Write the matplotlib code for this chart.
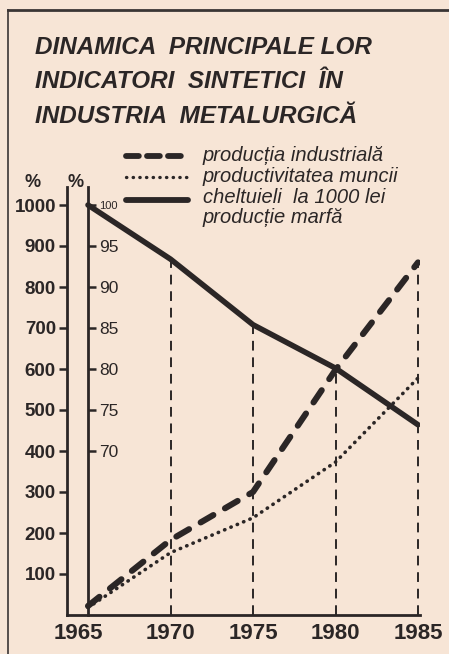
import matplotlib
matplotlib.use("Agg")
import matplotlib.pyplot as plt
from matplotlib.lines import Line2D
import matplotlib.transforms as mtransforms

# ---- data ----
years = [1965, 1970, 1975, 1980, 1985]
productia_industriala = [22, 183, 300, 598, 860]          # % (left scale)
productivitatea_muncii = [18, 152, 237, 373, 578]         # % (left scale)
cheltuieli_1000_lei = [100, 93.4, 85.4, 80.1, 73.2]       # % (inner scale)

left_ticks = [100, 200, 300, 400, 500, 600, 700, 800, 900, 1000]
inner_ticks = [70, 75, 80, 85, 90, 95, 100]
year_labels = ["1965", "1970", "1975", "1980", "1985"]

title_lines = ["DINAMICA  PRINCIPALE LOR",
               "INDICATORI  SINTETICI  ÎN",
               "INDUSTRIA  METALURGICĂ"]
legend_labels = ["producția industrială",
                 "productivitatea muncii",
                 "cheltuieli  la 1000 lei",
                 "producție marfă"]

# ---- style ----
BG = "#f7e5d6"
INK = "#2b2626"
FAM = ["Liberation Sans", "DejaVu Sans"]

W, H = 449, 654
fig = plt.figure(figsize=(W / 100, H / 100), dpi=100, facecolor=BG)

def px(x, y):
    return x / W, 1 - y / H

# axes geometry (pixels)
ax_l, ax_r, ax_t, ax_b = 67, 420, 187, 615
x0_px, x1_px = 88, 418  # 1965 and 1985
ppy = (x1_px - x0_px) / 20.0
ax = fig.add_axes([ax_l / W, 1 - ax_b / H, (ax_r - ax_l) / W, (ax_b - ax_t) / H])
ax.set_facecolor("none")
ax.set_xlim(1965 - (x0_px - ax_l) / ppy, 1985 + (ax_r - x1_px) / ppy)
ppv = (615 - 205) / 1000.0
ytop = (ax_b - ax_t) / ppv
ax.set_ylim(0, ytop)

for s in ["top", "right"]:
    ax.spines[s].set_visible(False)
for s in ["left", "bottom"]:
    ax.spines[s].set_color(INK)
    ax.spines[s].set_linewidth(2.0)

ax.set_yticks(left_ticks)
ax.set_yticklabels([str(t) for t in left_ticks])
ax.tick_params(axis="y", direction="out", length=6, width=1.8, color=INK,
               pad=2, labelcolor=INK)
for lab in ax.get_yticklabels():
    lab.set_fontfamily(FAM)
    lab.set_fontweight("bold")
    lab.set_fontsize(13.5)

ax.set_xticks(years)
ax.set_xticklabels(year_labels)
ax.tick_params(axis="x", length=0, pad=6, labelcolor=INK)
for lab in ax.get_xticklabels():
    lab.set_fontfamily(FAM)
    lab.set_fontweight("bold")
    lab.set_fontsize(16)
first = ax.get_xticklabels()[0]
first.set_transform(first.get_transform() +
                    mtransforms.ScaledTranslation(-10 / 100, 0, fig.dpi_scale_trans))

# inner axis
ax2 = ax.twinx()
ax2.set_facecolor("none")
ax2.set_ylim(50, 50 + ytop / 20.0)
for s in ["top", "left", "bottom"]:
    ax2.spines[s].set_visible(False)
ax2.spines["right"].set_position(("data", 1965))
ax2.spines["right"].set_color(INK)
ax2.spines["right"].set_linewidth(2.0)
ax2.set_yticks(inner_ticks)
ax2.set_yticklabels([str(t) for t in inner_ticks])
ax2.tick_params(axis="y", direction="out", length=6, width=1.8, color=INK,
                pad=2, labelcolor=INK)
for lab in ax2.get_yticklabels():
    lab.set_fontfamily(FAM)
    lab.set_fontsize(12.5 if lab.get_text() != "100" else 8)

# vertical dashed guide lines
conv = [(c - 50) * 20 for c in cheltuieli_1000_lei]
for i, yr in enumerate(years[1:], start=1):
    top = max(productia_industriala[i], productivitatea_muncii[i], conv[i])
    ax.plot([yr, yr], [0, top], color=INK, lw=1.4, dashes=(5, 3.5), zorder=1)

# series
ax.plot(years, productia_industriala, color=INK, lw=4.4, dashes=(2.4, 2.2),
        dash_capstyle="round", zorder=3)
ax.plot(years, productivitatea_muncii, color=INK, lw=2.6, dashes=(0.1, 1.8),
        dash_capstyle="round", zorder=3)
ax2.plot(years, cheltuieli_1000_lei, color=INK, lw=4.0,
         solid_joinstyle="round", solid_capstyle="round", zorder=3)

# title
for i, line in enumerate(title_lines):
    fig.text(*px(35, 54 + i * 34.5), line, fontfamily=FAM, fontstyle="italic",
             fontweight="bold", fontsize=17.5, color=INK, ha="left", va="baseline")

# legend
leg_y = [156, 177, 200]
styles = [dict(lw=4.2, dashes=(2.2, 1.4)), dict(lw=2.4, dashes=(0.1, 1.9)), dict(lw=4.2)]
for y, st in zip(leg_y, styles):
    l = Line2D([126 / W, 188 / W], [1 - y / H, 1 - y / H], transform=fig.transFigure,
               color=INK, dash_capstyle="round", solid_capstyle="round", **st)
    fig.add_artist(l)
for y, txt in zip([161, 182, 203, 223], legend_labels):
    fig.text(*px(203, y), txt, fontfamily=FAM, fontstyle="italic",
             fontsize=14.5, color=INK, va="baseline")

# percent labels
fig.text(*px(33, 187), "%", fontfamily=FAM, fontweight="bold", fontsize=13,
         color=INK, ha="center", va="baseline")
fig.text(*px(76, 187), "%", fontfamily=FAM, fontweight="bold", fontsize=13,
         color=INK, ha="center", va="baseline")

# frame lines
fig.add_artist(Line2D([8 / W, 1], [1 - 10 / H, 1 - 10 / H], transform=fig.transFigure,
                      color="#3a3535", lw=2.0))
fig.add_artist(Line2D([8 / W, 8 / W], [0, 1 - 10 / H], transform=fig.transFigure,
                      color="#3a3535", lw=1.2))

fig.savefig("out.png", dpi=100, facecolor=BG)
